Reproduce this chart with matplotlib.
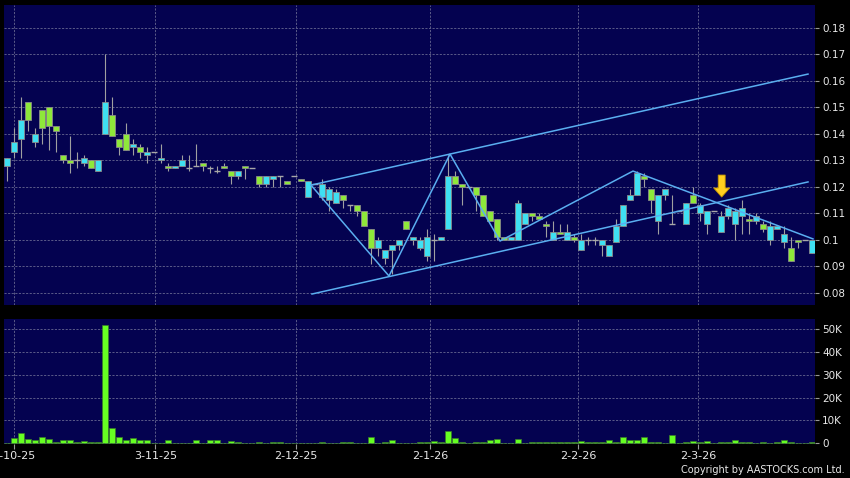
import matplotlib
matplotlib.use("Agg")
import matplotlib.pyplot as plt
import numpy as np

plt.rcParams['font.family'] = ['DejaVu Sans']

# ---- data (index = trading day) ----
opens = [.128,.133,.138,.152,.137,.149,.150,.143,.132,.130,.130,.129,.130,.126,.140,.147,.138,.140,.135,.135,
         .132,.133,.130,.128,.127,.128,.127,.128,.129,.127,.126,.128,.126,.124,.128,.127,.124,.121,.123,.124,
         .122,.124,.123,.116,.121,.116,.115,.114,.117,.113,.113,.111,.104,.097,.093,.096,.098,.107,.100,.097,
         .094,.100,.100,.104,.124,.121,.120,.120,.117,.111,.108,.101,.100,.100,.106,.110,.109,.106,.100,.103,
         .100,.101,.096,.100,.100,.098,.094,.099,.105,.115,.117,.124,.119,.107,.117,.106,.111,.106,.117,.110,
         .106,.111,.103,.109,.106,.109,.108,.107,.106,.100,.104,.099,.097,.100,.100,.095]
highs = [.131,.142,.154,.152,.142,.149,.150,.143,.132,.139,.133,.132,.130,.130,.170,.154,.138,.144,.138,.136,
         .135,.133,.136,.129,.128,.132,.132,.136,.129,.128,.128,.129,.126,.126,.128,.127,.124,.124,.124,.124,
         .122,.124,.123,.122,.121,.123,.120,.119,.117,.113,.113,.111,.104,.101,.096,.098,.100,.107,.101,.101,
         .104,.102,.101,.132,.126,.121,.120,.120,.117,.111,.108,.101,.101,.115,.110,.110,.110,.107,.107,.106,
         .106,.102,.102,.101,.101,.100,.098,.108,.113,.119,.126,.125,.119,.117,.119,.117,.111,.114,.120,.114,
         .111,.111,.111,.113,.112,.115,.110,.110,.107,.107,.105,.105,.101,.100,.100,.100]
lows = [.122,.131,.131,.141,.135,.136,.134,.133,.129,.125,.127,.128,.127,.126,.140,.139,.132,.134,.132,.131,
        .129,.133,.129,.126,.127,.128,.126,.128,.126,.125,.125,.127,.121,.123,.123,.127,.120,.120,.120,.120,
        .121,.124,.122,.116,.121,.115,.111,.114,.112,.111,.109,.105,.091,.094,.091,.087,.096,.104,.098,.096,
        .092,.092,.100,.104,.121,.113,.120,.111,.109,.107,.100,.100,.100,.100,.106,.107,.108,.101,.100,.102,
        .100,.099,.096,.098,.098,.094,.094,.099,.105,.115,.117,.120,.110,.102,.115,.106,.111,.106,.114,.107,
        .102,.111,.103,.108,.100,.102,.102,.106,.103,.098,.104,.097,.092,.097,.100,.095]
closes = [.131,.137,.145,.145,.140,.142,.143,.141,.130,.129,.130,.131,.127,.130,.152,.139,.135,.134,.136,.133,
          .133,.133,.131,.127,.128,.130,.127,.128,.128,.127,.126,.127,.124,.126,.127,.127,.121,.124,.124,.124,
          .121,.124,.122,.122,.121,.121,.119,.118,.115,.113,.111,.105,.097,.100,.096,.098,.100,.104,.101,.100,
          .101,.100,.101,.124,.121,.120,.120,.117,.109,.107,.101,.100,.101,.114,.110,.109,.108,.105,.103,.102,
          .103,.100,.100,.100,.100,.100,.098,.105,.113,.117,.125,.123,.115,.117,.119,.106,.111,.114,.114,.113,
          .111,.111,.109,.112,.111,.112,.107,.109,.104,.105,.105,.102,.092,.099,.100,.100]
volumes_k = [0.2,2.2,4.4,2.0,1.3,2.8,2.0,0.3,1.3,1.3,0.6,1.0,0.3,0.4,51.7,6.7,2.9,1.3,2.2,1.3,
             1.3,0.2,0.2,1.3,0.1,0.2,0.2,1.3,0.2,1.3,1.3,0.2,0.9,0.3,0.2,0.1,0.6,0.2,0.6,0.6,
             0.1,0.1,0.2,0.2,0.05,0.3,0.2,0.2,0.6,0.6,0.2,0.1,2.6,0.2,0.6,1.3,0.1,0.1,0.1,0.6,
             0.3,0.9,0.3,5.4,2.2,0.3,0.05,0.6,0.6,1.2,1.7,0.2,0.1,1.7,0.2,0.6,0.4,0.4,0.4,0.4,
             0.3,0.3,1.0,0.3,0.4,0.7,1.2,0.6,2.6,1.5,1.5,2.9,0.3,0.3,0.1,3.6,0.1,0.3,0.9,0.4,
             0.9,0.1,0.3,0.3,1.3,0.3,0.4,0.2,0.4,0.2,0.6,1.3,0.4,0.2,0.2,0.3]

date_labels = ['2-10-25', '3-11-25', '2-12-25', '2-1-26', '2-2-26', '2-3-26']
date_index = [1.0, 21.2, 41.3, 60.4, 81.6, 98.7]
price_ticks = [0.08, 0.09, 0.10, 0.11, 0.12, 0.13, 0.14, 0.15, 0.16, 0.17, 0.18]
vol_ticks = [0, 10000, 20000, 30000, 40000, 50000]
vol_labels = ['0', '10K', '20K', '30K', '40K', '50K']

# trendline annotations (day index, price)
upper_channel_x = [43.43, 114.43]
upper_channel_y = [0.1206, 0.1625]
lower_channel_x = [43.57, 114.43]
lower_channel_y = [0.0795, 0.1218]
wave_x = [43.43, 54.57, 63.29, 70.43, 89.43, 115.14]
wave_y = [0.1206, 0.0863, 0.1323, 0.0995, 0.1259, 0.1003]
arrow_x = 102.1
arrow_from = 0.1244
arrow_to = 0.1161

# ---- styling ----
BG = '#040250'
CYAN = '#3fe0f2'
GREEN = '#8ee83a'
VOLG = '#66ff22'
LINE = '#5aaef0'
GRID = '#5a5a88'
TXT = '#e8e8e8'

W, H = 850, 478
fig = plt.figure(figsize=(W / 100, H / 100), dpi=100, facecolor='black')
ax = fig.add_axes([4 / W, 1 - 305 / H, 811 / W, 300 / H])
axv = fig.add_axes([4 / W, 1 - 443.5 / H, 811 / W, 124.5 / H])

n = len(opens)
x = np.arange(n)
o = np.array(opens); c = np.array(closes); hi = np.array(highs); lo = np.array(lows)

for a in (ax, axv):
    a.set_facecolor(BG)
    for s in a.spines.values():
        s.set_visible(False)
    a.set_xlim(-0.43, 115.43)
    a.yaxis.tick_right()
    a.set_xticks(date_index)
    a.grid(True, color=GRID, linestyle=(0, (2.2, 1.5)), linewidth=0.7)
    a.set_axisbelow(True)
    a.tick_params(axis='y', colors='#999999', labelcolor=TXT, labelsize=7.5, length=3, width=0.8, pad=2)

# candles
ax.vlines(x, lo, hi, color='#a0a0a0', linewidth=0.8, zorder=2)
up = c > o
dn = c < o
eq = c == o
ax.bar(x[up], (c - o)[up], bottom=o[up], width=0.72, color=CYAN, edgecolor='#8a8a8a', linewidth=0.6, zorder=3)
ax.bar(x[dn], (o - c)[dn], bottom=c[dn], width=0.72, color=GREEN, edgecolor='#8a8a8a', linewidth=0.6, zorder=3)
ax.hlines(o[eq], x[eq] - 0.36, x[eq] + 0.36, color='#a8a8a8', linewidth=1.0, zorder=3)

# trendlines
ax.plot(upper_channel_x, upper_channel_y, color=LINE, linewidth=1.1, zorder=4)
ax.plot(lower_channel_x, lower_channel_y, color=LINE, linewidth=1.1, zorder=4)
ax.plot(wave_x, wave_y, color=LINE, linewidth=1.1, zorder=4)

ax.annotate('', xy=(arrow_x, arrow_to), xytext=(arrow_x, arrow_from),
            arrowprops=dict(facecolor='#ffcf1f', edgecolor='#c99800', linewidth=0.6,
                            width=5, headwidth=11.5, headlength=6.5, shrink=0), zorder=5)

ax.set_ylim(0.07536, 0.18857)
ax.set_yticks(price_ticks)
ax.set_yticklabels(['%g' % round(v, 2) for v in price_ticks])
ax.tick_params(axis='x', length=0, labelbottom=False)

# volume
axv.bar(x, np.array(volumes_k) * 1000, width=0.8, color=VOLG, edgecolor='#3a7a2a', linewidth=0.5, zorder=3)
axv.set_ylim(-150, 54400)
axv.set_yticks(vol_ticks)
axv.set_yticklabels(vol_labels)
axv.set_xticklabels(date_labels)
axv.tick_params(axis='x', colors='#999999', labelcolor=TXT, labelsize=8, length=3.5, width=0.8, pad=2)

fig.text(845 / W, 1 - 470 / H, 'Copyright by AASTOCKS.com Ltd.', ha='right', va='center',
         color=TXT, fontsize=7)

fig.savefig('out.png', dpi=100, facecolor='black')
